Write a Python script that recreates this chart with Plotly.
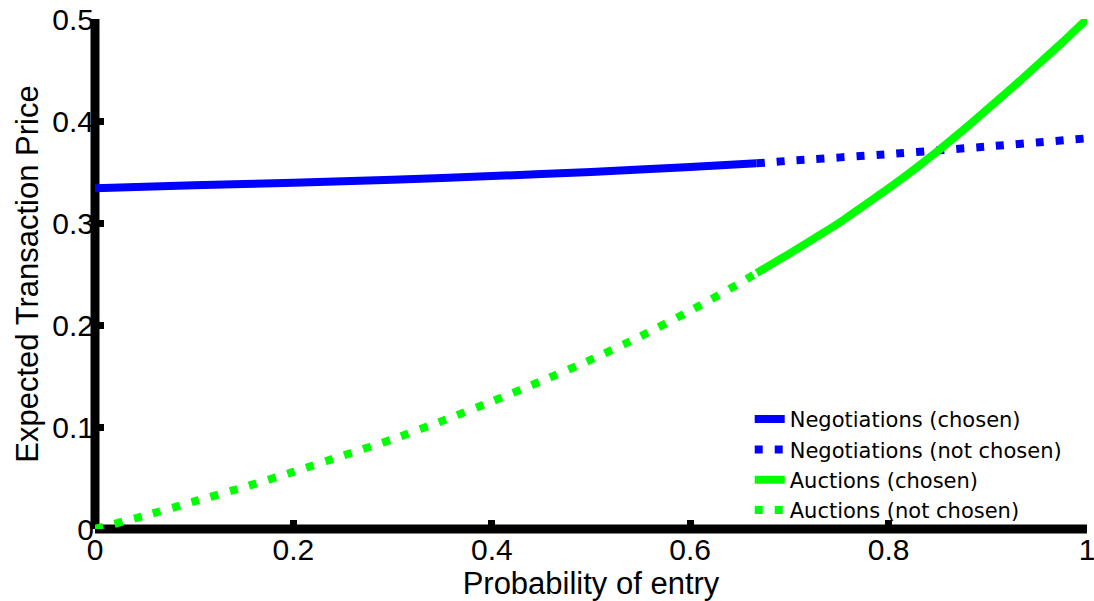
import plotly.graph_objects as go

# Probability of entry vs expected transaction price
x_neg_chosen = [0.0, 0.1, 0.2, 0.3, 0.4, 0.5, 0.6, 0.667]
y_neg_chosen = [0.334, 0.337, 0.3395, 0.3425, 0.346, 0.350, 0.355, 0.3585]
x_neg_not = [0.667, 0.7, 0.8, 0.9, 1.0]
y_neg_not = [0.3585, 0.361, 0.3675, 0.375, 0.383]

x_auc_not = [0.0, 0.05, 0.1, 0.15, 0.2, 0.25, 0.3, 0.35, 0.4, 0.45, 0.5, 0.55, 0.6, 0.65, 0.667]
y_auc_not = [0.0, 0.013, 0.027, 0.041, 0.056, 0.072, 0.088, 0.106, 0.125, 0.145, 0.166, 0.189, 0.214, 0.241, 0.251]
x_auc_chosen = [0.667, 0.7, 0.725, 0.75, 0.775, 0.8, 0.825, 0.85, 0.875, 0.9, 0.925, 0.95, 0.975, 1.0]
y_auc_chosen = [0.251, 0.270, 0.285, 0.300, 0.317, 0.334, 0.352, 0.371, 0.391, 0.412, 0.433, 0.455, 0.477, 0.500]

x_ticks = [0, 0.2, 0.4, 0.6, 0.8, 1]
x_ticklabels = ["0", "0.2", "0.4", "0.6", "0.8", "1"]
y_ticks = [0, 0.1, 0.2, 0.3, 0.4, 0.5]
y_ticklabels = ["0", "0.1", "0.2", "0.3", "0.4", "0.5"]

BLUE = "#0000FF"
GREEN = "#00FF00"
FONT = "Liberation Sans, Arial, sans-serif"
LEGEND_FONT = "DejaVu Sans, Liberation Sans, sans-serif"
DASH = "8px,12px"

fig = go.Figure()
fig.add_trace(go.Scatter(x=x_neg_chosen, y=y_neg_chosen, mode="lines",
                         name="Negotiations (chosen)",
                         line=dict(color=BLUE, width=8, shape="spline", smoothing=0.6)))
fig.add_trace(go.Scatter(x=x_neg_not, y=y_neg_not, mode="lines",
                         name="Negotiations (not chosen)",
                         line=dict(color=BLUE, width=8, dash=DASH, shape="spline", smoothing=0.6)))
fig.add_trace(go.Scatter(x=x_auc_chosen, y=y_auc_chosen, mode="lines",
                         name="Auctions (chosen)",
                         line=dict(color=GREEN, width=8, shape="spline", smoothing=0.6)))
fig.add_trace(go.Scatter(x=x_auc_not, y=y_auc_not, mode="lines",
                         name="Auctions (not chosen)",
                         line=dict(color=GREEN, width=8, dash=DASH, shape="spline", smoothing=0.6)))

# thick spines (left and bottom), drawn below the traces
fig.add_shape(type="line", xref="paper", yref="paper", x0=0, x1=0, y0=0, y1=1,
              line=dict(color="black", width=9), layer="below")
fig.add_shape(type="line", xref="paper", yref="paper", x0=0, x1=1, y0=0, y1=0,
              line=dict(color="black", width=9), layer="below")

fig.update_layout(
    width=1094, height=601,
    margin=dict(l=95, r=7, t=19, b=72, autoexpand=False),
    paper_bgcolor="white", plot_bgcolor="white",
    font=dict(family=FONT, color="black"),
    showlegend=True,
    legend=dict(
        x=0.66, y=0.255, xanchor="left", yanchor="top",
        font=dict(family=LEGEND_FONT, size=21, color="black"),
        bgcolor="rgba(255,255,255,0)", borderwidth=0,
        tracegroupgap=0, itemwidth=30,
    ),
    xaxis=dict(
        range=[0, 1], tickmode="array", tickvals=x_ticks, ticktext=x_ticklabels,
        ticks="inside", ticklen=9, tickwidth=7, tickcolor="black",
        showgrid=False, zeroline=False, showline=False,
        automargin=False, ticklabeloverflow="allow",
        tickfont=dict(family=FONT, size=30, color="black"),
        title=dict(text="Probability of entry", font=dict(family=FONT, size=31, color="black"),
                   standoff=0),
    ),
    yaxis=dict(
        range=[0, 0.5], tickmode="array", tickvals=y_ticks, ticktext=y_ticklabels,
        ticks="inside", ticklen=9, tickwidth=7, tickcolor="black",
        showgrid=False, zeroline=False, showline=False,
        automargin=False, ticklabeloverflow="allow",
        tickfont=dict(family=FONT, size=30, color="black"),
        title=dict(text="Expected Transaction Price", font=dict(family=FONT, size=31, color="black"),
                   standoff=4),
    ),
)

fig.write_html("out.html")
